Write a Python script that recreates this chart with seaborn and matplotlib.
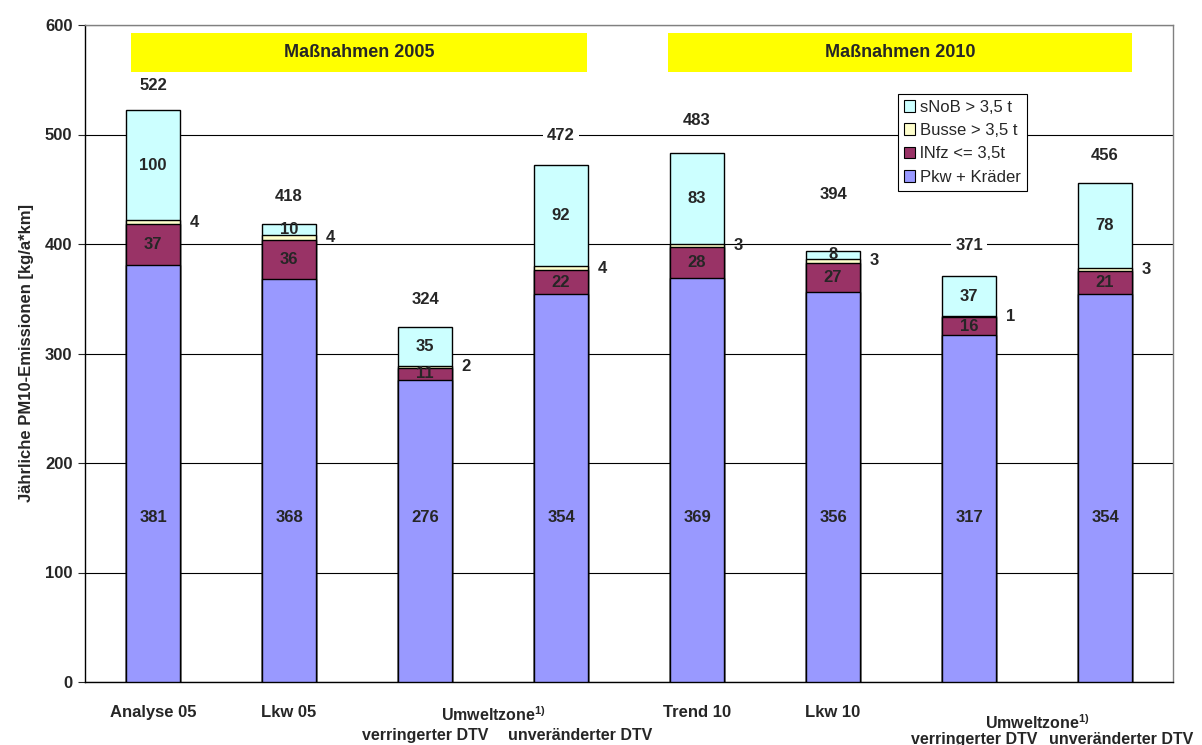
import numpy as np
import pandas as pd
import matplotlib
matplotlib.use("Agg")
import matplotlib.pyplot as plt
import matplotlib.transforms as mtransforms
from matplotlib.patches import Patch
import seaborn as sns

# data
scenarios = ["Analyse 05", "Lkw 05", "UZ verr. 05", "UZ unv. 05",
             "Trend 10", "Lkw 10", "UZ verr. 10", "UZ unv. 10"]
tick_labels = ["Analyse 05", "Lkw 05", "", "", "Trend 10", "Lkw 10", "", ""]
pkw = [381, 368, 276, 354, 369, 356, 317, 354]
lnfz = [37, 36, 11, 22, 28, 27, 16, 21]
busse = [4, 4, 2, 4, 3, 3, 1, 3]
snob = [100, 10, 35, 92, 83, 8, 37, 78]
totals = [522, 418, 324, 472, 483, 394, 371, 456]
# gap between bar top and total label (data units)
total_gap = [23, 25, 25, 27, 30, 51, 28, 25]

series_names = ["Pkw + Kräder", "lNfz <= 3,5t", "Busse > 3,5 t", "sNoB > 3,5 t"]
colors = ["#9999FF", "#993366", "#FFFFCC", "#CCFFFF"]

df = pd.DataFrame({"scenario": scenarios, "pkw": pkw, "lnfz": lnfz,
                   "busse": busse, "snob": snob})
df["c1"] = df["pkw"]
df["c2"] = df["c1"] + df["lnfz"]
df["c3"] = df["c2"] + df["busse"]
df["c4"] = df["c3"] + df["snob"]

sns.set_style("white")
plt.rcParams["font.family"] = ["Liberation Sans", "DejaVu Sans"]
plt.rcParams["mathtext.fontset"] = "custom"
plt.rcParams["mathtext.rm"] = "Liberation Sans"
plt.rcParams["mathtext.bf"] = "Liberation Sans:bold"

fig = plt.figure(figsize=(12.02, 7.45), dpi=100)
ax = fig.add_axes([85 / 1202, 1 - 682 / 745, (1173 - 85) / 1202, (682 - 25) / 745])

# stacked bars drawn as overlapping cumulative layers, tallest first
for col, color in zip(["c4", "c3", "c2", "c1"], colors[::-1]):
    sns.barplot(data=df, x="scenario", y=col, color=color, width=0.4,
                edgecolor="black", linewidth=1.0, saturation=1, ax=ax,
                zorder=3)

ax.set_ylim(0, 600)
ax.set_xlim(-0.5, 7.5)
ax.set_yticks(np.arange(0, 601, 100))
ax.grid(axis="y", color="black", linewidth=0.8, zorder=0)
ax.set_axisbelow(True)
for side in ["top", "right"]:
    ax.spines[side].set_color("#808080")
    ax.spines[side].set_linewidth(1.0)
for side in ["left", "bottom"]:
    ax.spines[side].set_color("black")
    ax.spines[side].set_linewidth(1.0)

ax.tick_params(axis="y", which="both", left=True, length=5, width=0.8,
               labelsize=12, pad=4)
ax.tick_params(axis="x", bottom=False, labelsize=12, pad=13)
ax.set_xticks(range(len(scenarios)))
ax.set_xticklabels(tick_labels, fontweight="bold")
for lab in ax.get_yticklabels():
    lab.set_fontweight("bold")
ax.set_xlabel("")
ax.set_ylabel("Jährliche PM10-Emissionen [kg/a*km]", fontsize=12,
              fontweight="bold", labelpad=8)

# value labels
for i in range(len(scenarios)):
    ax.text(i, 150, str(pkw[i]), ha="center", va="center", fontsize=12,
            fontweight="bold", zorder=5)
    ax.text(i, pkw[i] + lnfz[i] / 2, str(lnfz[i]), ha="center", va="center",
            fontsize=12, fontweight="bold", zorder=5)
    ax.text(i + 0.27, pkw[i] + lnfz[i] + busse[i] / 2, str(busse[i]),
            ha="left", va="center", fontsize=12, fontweight="bold", zorder=5)
    ax.text(i, df["c3"][i] + snob[i] / 2, str(snob[i]), ha="center",
            va="center", fontsize=12, fontweight="bold", zorder=5)
    ax.text(i, totals[i] + total_gap[i], str(totals[i]), ha="center",
            va="center", fontsize=12, fontweight="bold", zorder=5,
            bbox=dict(facecolor="white", edgecolor="none", pad=3))

# yellow banners
banners = [("Maßnahmen 2005", -0.16, 3.19), ("Maßnahmen 2010", 3.79, 7.2)]
for text, x0, x1 in banners:
    ax.axvspan(x0, x1, ymin=557 / 600, ymax=593 / 600, color="#FFFF00",
               zorder=2, linewidth=0)
    ax.text((x0 + x1) / 2, 575, text, ha="center", va="center",
            fontsize=13, fontweight="bold", zorder=4)

# group labels under the Umweltzone bars
trans = mtransforms.blended_transform_factory(ax.transData, ax.transAxes)
for xc, xv, xu, y1, y2 in [(2.5, 2.0, 3.14, -0.050, -0.081),
                           (6.5, 6.04, 7.12, -0.062, -0.088)]:
    ax.text(xc, y1, r"Umweltzone$^{\mathbf{1)}}$", transform=trans,
            ha="center", va="center", fontsize=11.5, fontweight="bold")
    ax.text(xv, y2, "verringerter DTV", transform=trans, ha="center",
            va="center", fontsize=11.5, fontweight="bold")
    ax.text(xu, y2, "unveränderter DTV", transform=trans, ha="center",
            va="center", fontsize=11.5, fontweight="bold")

handles = [Patch(facecolor=c, edgecolor="black", linewidth=0.8)
           for c in colors[::-1]]
leg = ax.legend(handles, series_names[::-1], loc="upper left",
                bbox_to_anchor=(0.747, 0.895), fontsize=12, frameon=True,
                fancybox=False, framealpha=1, edgecolor="black",
                handlelength=0.7, handleheight=0.7, handletextpad=0.3,
                labelspacing=0.5, borderpad=0.35, borderaxespad=0)
leg.get_frame().set_linewidth(0.8)
leg.set_zorder(6)

fig.savefig("out.png", dpi=100)
